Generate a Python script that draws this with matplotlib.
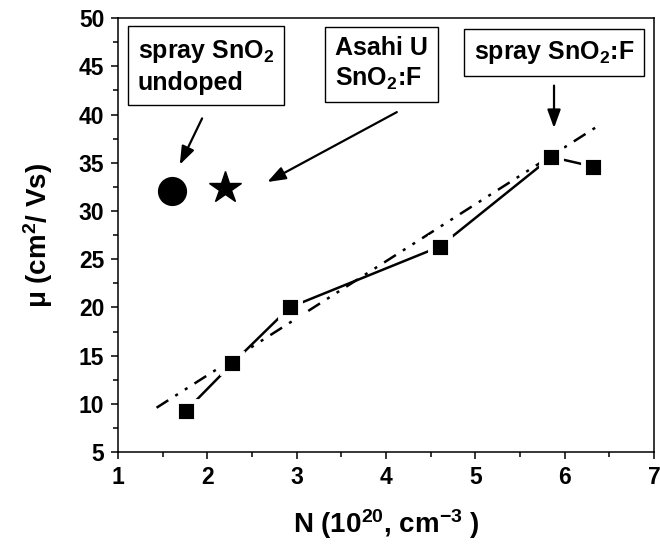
import matplotlib
matplotlib.use("Agg")
import matplotlib.pyplot as plt

plt.rcParams['font.family'] = ['Liberation Sans', 'DejaVu Sans']
plt.rcParams['font.weight'] = 'bold'
plt.rcParams['mathtext.fontset'] = 'custom'
plt.rcParams['mathtext.rm'] = 'Liberation Sans:bold'
plt.rcParams['mathtext.it'] = 'Liberation Sans:bold'
plt.rcParams['mathtext.bf'] = 'Liberation Sans:bold'
plt.rcParams['lines.scale_dashes'] = False

# spray SnO2:F series
n_spray = [1.76, 2.28, 2.92, 4.60, 5.85, 6.32]
mu_spray = [9.3, 14.2, 20.0, 26.3, 35.6, 34.6]

# linear fit (dash-dot-dot)
n_fit = [1.43, 6.37]
mu_fit = [9.6, 38.8]

# single samples
n_undoped, mu_undoped = [1.60], [32.1]
n_asahi, mu_asahi = [2.20], [32.4]

fig = plt.figure(figsize=(6.6, 5.48), dpi=100)
ax = fig.add_axes([0.179, 0.175, 0.812, 0.792])

ax.plot(n_fit, mu_fit, color='black', lw=1.8,
        linestyle=(0, (10, 6, 2.2, 6, 2.2, 6)), zorder=2)
ax.plot(n_spray, mu_spray, color='black', lw=1.8, marker='s', ms=15,
        mfc='black', mec='white', mew=3.5, zorder=3)
ax.plot(n_undoped, mu_undoped, 'o', color='black', ms=20, zorder=3)
ax.plot(n_asahi, mu_asahi, '*', color='black', ms=24, zorder=3)

ax.set_xlim(1, 7)
ax.set_ylim(5, 50)
ax.set_xticks(range(1, 8))
ax.set_yticks(range(5, 51, 5))
ax.set_xticks([1.5, 2.5, 3.5, 4.5, 5.5, 6.5], minor=True)
ax.set_yticks([7.5 + 5 * i for i in range(9)], minor=True)
ax.tick_params(which='major', direction='out', length=5, width=1.1, labelsize=16.5)
ax.tick_params(axis='x', which='major', pad=5)
ax.tick_params(axis='y', which='major', pad=5)
ax.tick_params(which='minor', direction='out', length=3.5, width=1.1)
for s in ax.spines.values():
    s.set_linewidth(1.1)

ax.set_xlabel('N (10$^{20}$, cm$^{-3}$ )', fontsize=20, fontweight='bold', labelpad=13)
ax.set_ylabel('μ (cm$^{2}$/ Vs)', fontsize=20, fontweight='bold', labelpad=17)

box = dict(boxstyle='square,pad=0.4', fc='white', ec='black', lw=1.0)
ax.text(1.98, 45.0, 'spray SnO$_{2}$\nundoped', fontsize=18, fontweight='bold',
        ha='center', va='center', multialignment='left', bbox=box, linespacing=1.3)
ax.text(3.945, 45.2, 'Asahi U\nSnO$_{2}$:F', fontsize=18, fontweight='bold',
        ha='center', va='center', multialignment='left', bbox=box, linespacing=1.3)
ax.text(5.88, 46.4, 'spray SnO$_{2}$:F', fontsize=18, fontweight='bold',
        ha='center', va='center', bbox=box)

arrow = dict(arrowstyle='-|>,head_length=0.55,head_width=0.2', color='black', lw=1.6,
             mutation_scale=20, shrinkA=0, shrinkB=0)
ax.annotate('', xy=(1.69, 34.8), xytext=(1.94, 39.6), arrowprops=arrow)
ax.annotate('', xy=(2.67, 33.0), xytext=(4.12, 40.25), arrowprops=arrow)
ax.annotate('', xy=(5.88, 38.6), xytext=(5.88, 43.0), arrowprops=arrow)

fig.savefig('out.png', dpi=100)
